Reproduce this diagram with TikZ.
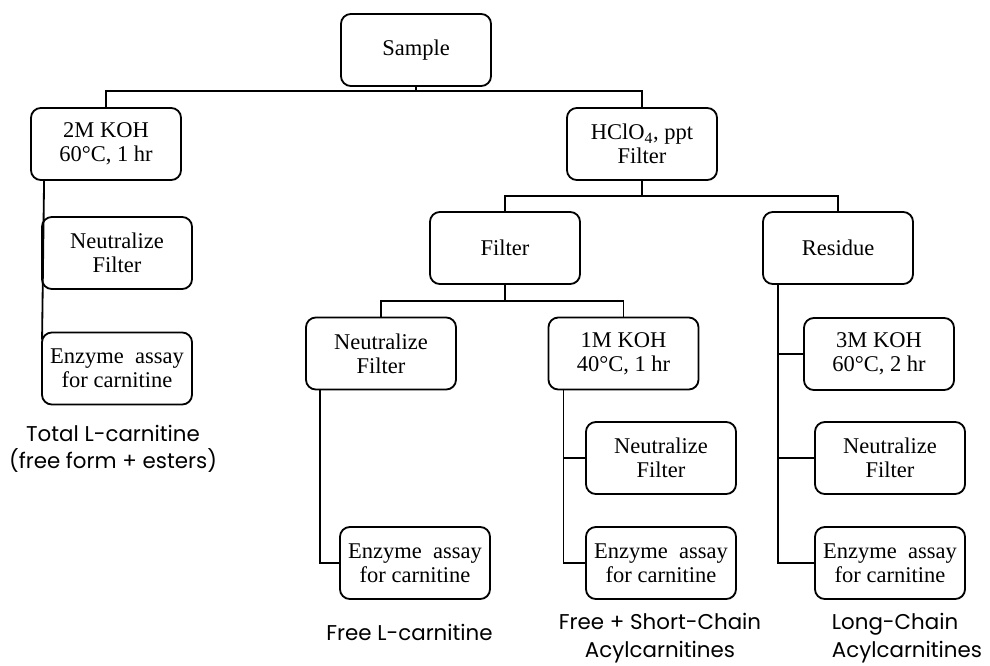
\documentclass[tikz,border=0pt]{standalone}
\usepackage{fontspec}
\setmainfont{Liberation Serif}
\newfontfamily\gothic{Poppins}
\usetikzlibrary{calc}

\begin{document}
\begin{tikzpicture}[x=0.025cm, y=-0.025cm, line width=1.3pt,
		box/.style={draw, rounded corners=7pt, minimum width=3.75cm, minimum height=1.8cm, inner sep=2pt, align=center, font=\fontsize{16}{17}\selectfont},
		result/.style={align=center, inner sep=0pt, font=\gothic\fontsize{15.2}{19.5}\selectfont}]
		\useasboundingbox (0,0) rectangle (990,665);

		\node (sample) at (416,50) [box] {Sample};
		\node (koh2) at (106,144) [box] {2M KOH\\60°C, 1 hr};
		\node (neut1) at (117,253) [box] {Neutralize\\Filter};
		\node (enz1) at (117,368.5) [box] {Enzyme\enspace assay\\for carnitine};
		\node (hclo) at (642,144) [box] {HClO\textsubscript{4}, ppt\\Filter};
		\node (filt) at (505,248) [box] {Filter};
		\node (resid) at (838,248) [box] {Residue};
		\node (neut2) at (381,353.5) [box] {Neutralize\\Filter};
		\node (koh1) at (623.5,353.5) [box] {1M KOH\\40°C, 1 hr};
		\node (enz2) at (415,563) [box] {Enzyme\enspace assay\\for carnitine};
		\node (neut3) at (661,458) [box] {Neutralize\\Filter};
		\node (enz3) at (661,563) [box] {Enzyme\enspace assay\\for carnitine};
		\node (koh3) at (879,354) [box] {3M KOH\\60°C, 2 hr};
		\node (neut4) at (890,458) [box] {Neutralize\\Filter};
		\node (enz4) at (890,563) [box] {Enzyme\enspace assay\\for carnitine};

		\node (total) at (113,449) [result] {Total L-carnitine\\(free form + esters)};
		\node (free) at (409.5,632) [result] {Free L-carnitine};
		\node (short) at (660,638) [result] {Free + Short-Chain\\Acylcarnitines};
		\node (long) at (831,638) [result, anchor=west, align=left] {Long-Chain\\Acylcarnitines};

		\coordinate (sj) at (416,91);
		\coordinate (hj) at (642,196);
		\coordinate (fj) at (505,301);
		\draw (sample.south) -- (sj);
		\draw (koh2.north) |- (sj) -| (hclo.north);
		\draw ($(koh2.south west)+(14,0)$) -- ($(enz1.north west)+(1,8)$);
		\draw (hclo.south) -- (hj);
		\draw (filt.north) |- (hj) -| (resid.north);
		\draw (filt.south) -- (fj);
		\draw (neut2.north) |- (fj) -| (koh1.north);
		\draw ($(neut2.south west)+(15,0)$) |- (enz2.west);
		\coordinate (k1) at ($(koh1.south west)+(16,0)$);
		\draw (k1) |- (enz3.west);
		\draw (k1) |- (neut3.west);
		\coordinate (r1) at ($(resid.south west)+(16,0)$);
		\foreach \n in {koh3, neut4, enz4} {
			\draw (r1) |- (\n.west);
		}

	\end{tikzpicture}
\end{document}
